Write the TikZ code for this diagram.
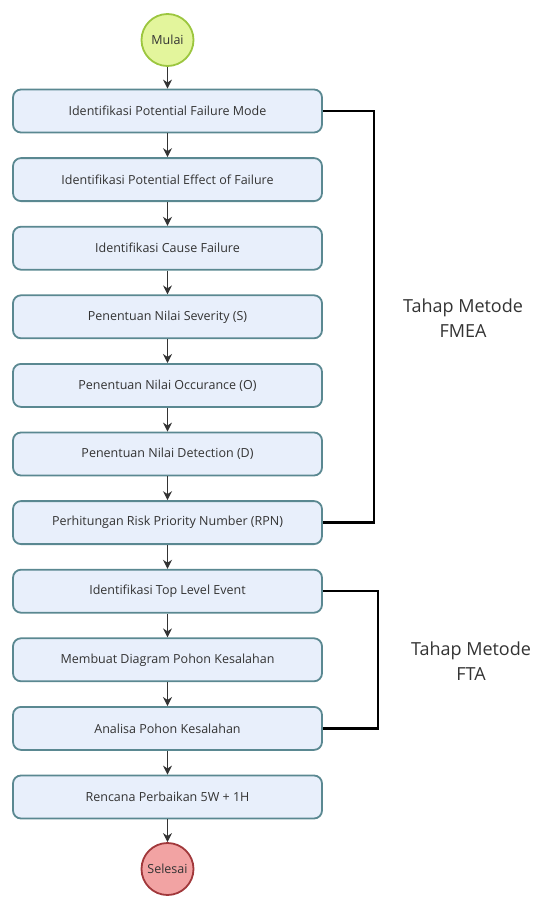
\documentclass[tikz,border=0pt]{standalone}
\usepackage{fontspec}
\setmainfont{Open Sans}
\usetikzlibrary{arrows.meta}
\definecolor{boxfill}{HTML}{E8EFFB}
\definecolor{boxline}{HTML}{5A8891}
\definecolor{startfill}{HTML}{E3F59C}
\definecolor{startline}{HTML}{9CC63F}
\definecolor{endfill}{HTML}{F2A3A3}
\definecolor{endline}{HTML}{A1383B}
\definecolor{arr}{HTML}{333333}
\begin{document}
\begin{tikzpicture}[x=1pt,y=-1pt,
  stepbox/.style={draw=boxline,line width=1.8pt,fill=boxfill,rounded corners=8pt,
    minimum width=309pt,minimum height=43pt,inner sep=0pt,font=\fontsize{12.5}{14}\selectfont,text=black!80},
  startnode/.style={circle,draw=startline,line width=1.8pt,fill=startfill,minimum size=52pt,inner sep=0pt,font=\fontsize{12.5}{14}\selectfont,text=black!80},
  endnode/.style={circle,draw=endline,line width=1.8pt,fill=endfill,minimum size=52pt,inner sep=0pt,font=\fontsize{12.5}{14}\selectfont,text=black!80},
  flow/.style={-{Stealth[length=9pt,width=9pt]},line width=1pt,draw=arr},
  bracket/.style={line width=2.5pt,draw=black},
  phase/.style={align=center,font=\fontsize{18}{25}\selectfont,text=black!80}
]
\useasboundingbox (0,0) rectangle (539,897);
\node[startnode] (s) at (167.5,40) {Mulai};
\node[stepbox] (b1) at (167.5,111) {Identifikasi Potential Failure Mode};
\node[stepbox] (b2) at (167.5,179.6) {Identifikasi Potential Effect of Failure};
\node[stepbox] (b3) at (167.5,248.2) {Identifikasi Cause Failure};
\node[stepbox] (b4) at (167.5,316.8) {Penentuan Nilai Severity (S)};
\node[stepbox] (b5) at (167.5,385.4) {Penentuan Nilai Occurance (O)};
\node[stepbox] (b6) at (167.5,454) {Penentuan Nilai Detection (D)};
\node[stepbox] (b7) at (167.5,522.6) {Perhitungan Risk Priority Number (RPN)};
\node[stepbox] (b8) at (167.5,591.2) {Identifikasi Top Level Event};
\node[stepbox] (b9) at (167.5,659.8) {Membuat Diagram Pohon Kesalahan};
\node[stepbox] (b10) at (167.5,728.4) {Analisa Pohon Kesalahan};
\node[stepbox] (b11) at (167.5,797) {Rencana Perbaikan 5W + 1H};
\node[endnode] (e) at (167.5,869) {Selesai};
\draw[flow] (s) -- (b1);
\draw[flow] (b1) -- (b2);
\draw[flow] (b2) -- (b3);
\draw[flow] (b3) -- (b4);
\draw[flow] (b4) -- (b5);
\draw[flow] (b5) -- (b6);
\draw[flow] (b6) -- (b7);
\draw[flow] (b7) -- (b8);
\draw[flow] (b8) -- (b9);
\draw[flow] (b9) -- (b10);
\draw[flow] (b10) -- (b11);
\draw[flow] (b11) -- (e);
\coordinate (f1) at (374,111);
\coordinate (f2) at (374,522.6);
\draw[bracket] (b1.east) -- (f1) -- (f2) -- (b7.east);
\coordinate (t1) at (378,591.2);
\coordinate (t2) at (378,728.4);
\draw[bracket] (b8.east) -- (t1) -- (t2) -- (b10.east);
\node[phase] (pf) at (463,318) {Tahap Metode\\FMEA};
\node[phase] (pt) at (471,661) {Tahap Metode\\FTA};
\end{tikzpicture}
\end{document}
